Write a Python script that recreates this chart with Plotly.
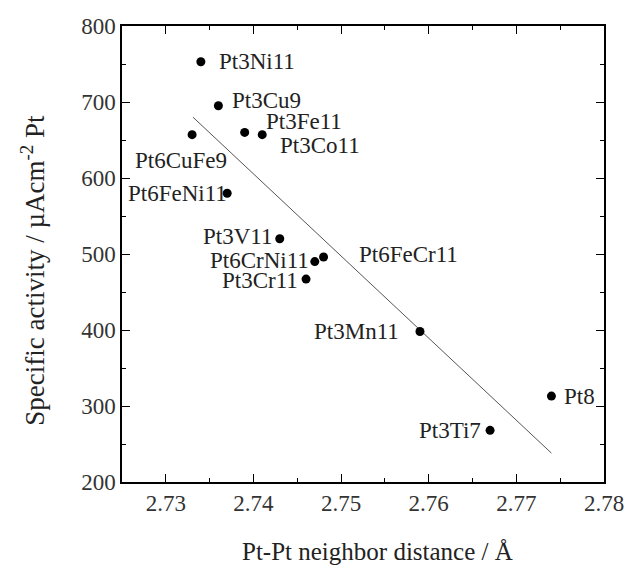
import plotly.graph_objects as go

names = ["Pt3Ni11", "Pt3Cu9", "Pt6CuFe9", "Pt3Fe11", "Pt3Co11", "Pt6FeNi11",
         "Pt3V11", "Pt6CrNi11", "Pt6FeCr11", "Pt3Cr11", "Pt3Mn11", "Pt8", "Pt3Ti7"]
distance = [2.734, 2.736, 2.733, 2.739, 2.741, 2.737,
            2.743, 2.747, 2.748, 2.746, 2.759, 2.774, 2.767]
activity = [753, 695, 657, 660, 657, 580,
            520, 490, 496, 467, 398, 313, 268]

fit_x = [2.7331, 2.774]
fit_y = [680, 238]

x_title = "Pt-Pt neighbor distance / Å"
y_title = "Specific activity / µAcm<sup>-2</sup> Pt"

# label offsets (pixels) and anchors
label_pos = {
    "Pt3Ni11": (16, 0, "left"),
    "Pt3Cu9": (12, 5, "left"),
    "Pt6CuFe9": (-11, -26, "center"),
    "Pt3Fe11": (19, 11, "left"),
    "Pt3Co11": (16, -11, "left"),
    "Pt6FeNi11": (2, 0, "right"),
    "Pt3V11": (-6, 2, "right"),
    "Pt6CrNi11": (-4, 1, "right"),
    "Pt6FeCr11": (33, 3, "left"),
    "Pt3Cr11": (-6, -1, "right"),
    "Pt3Mn11": (-19, 0, "right"),
    "Pt8": (11, 0, "left"),
    "Pt3Ti7": (-7, 0, "right"),
}

font_family = "Liberation Serif"

fig = go.Figure()
fig.add_trace(go.Scatter(x=fit_x, y=fit_y, mode="lines",
                         line=dict(color="#555555", width=1), showlegend=False))
fig.add_trace(go.Scatter(x=distance, y=activity, mode="markers",
                         marker=dict(color="black", size=9), showlegend=False))

for n, xv, yv in zip(names, distance, activity):
    dx, dy, anc = label_pos[n]
    fig.add_annotation(x=xv, y=yv, text=n, showarrow=False, xanchor=anc,
                       yanchor="middle", xshift=dx, yshift=dy,
                       font=dict(family=font_family, size=23, color="#222222"))

# axis titles as paper-positioned annotations
fig.add_annotation(xref="paper", yref="paper", x=0.531, y=-0.152, text=x_title,
                   showarrow=False, xanchor="center", yanchor="middle",
                   font=dict(family=font_family, size=25, color="#222222"))
fig.add_annotation(xref="paper", yref="paper", x=-0.185, y=0.465, text=y_title,
                   textangle=-90, showarrow=False, xanchor="center", yanchor="middle",
                   font=dict(family=font_family, size=27, color="#222222"))

axis_common = dict(showline=True, linecolor="black", linewidth=1.5, mirror="ticks",
                   ticks="inside", ticklen=8, tickcolor="black", showgrid=False,
                   zeroline=False, tickfont=dict(family=font_family, size=23, color="#333333"))

fig.update_xaxes(range=[2.725, 2.78], dtick=0.01, tick0=2.73, tickformat=".2f",
                 minor=dict(ticks="inside", dtick=0.005, tick0=2.725, ticklen=4, tickcolor="black"),
                 **axis_common)
fig.update_yaxes(range=[200, 800], dtick=100,
                 minor=dict(ticks="inside", dtick=50, ticklen=4, tickcolor="black"),
                 **axis_common)

fig.update_layout(width=627, height=567, plot_bgcolor="white", paper_bgcolor="white",
                  margin=dict(l=122, r=23, t=26, b=85, autoexpand=False))

# remove the default 8px body margin so the figure fills the window exactly
fig.write_html("out.html", config={"displayModeBar": False},
               post_script="document.body.style.margin='0';document.body.style.overflow='hidden';")
